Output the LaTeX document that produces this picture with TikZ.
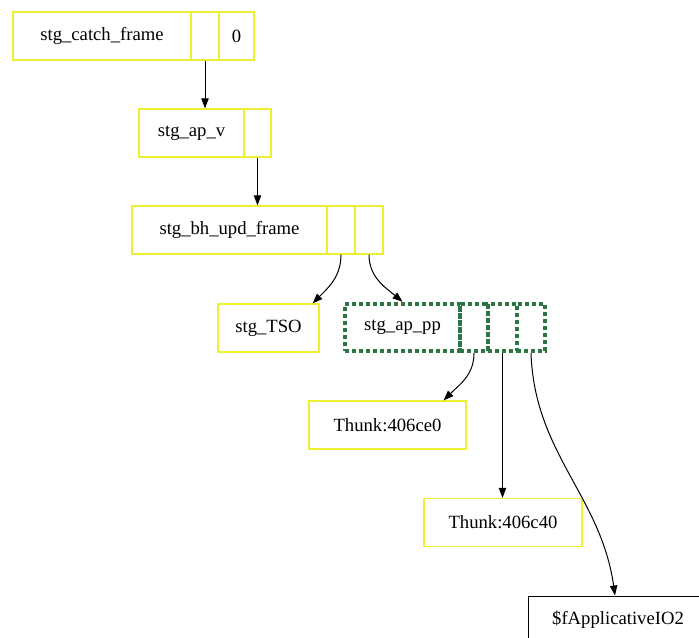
\documentclass[tikz,border=0pt]{standalone}
\usepackage{fontspec}
\setmainfont{Liberation Serif}
\usetikzlibrary{arrows.meta,calc}

\definecolor{recyellow}{RGB}{238,238,50}
\definecolor{activegreen}{RGB}{45,118,68}

\tikzset{
  cell/.style={draw=recyellow, line width=0.9pt, minimum height=36pt, inner sep=0pt, font=\fontsize{14}{17}\selectfont},
  active/.style={draw=activegreen, line width=3.3pt, dash pattern=on 3pt off 2.25pt, minimum height=35.25pt, inner sep=0pt, font=\fontsize{14}{17}\selectfont},
  plain/.style={draw=black, line width=0.75pt, minimum height=36pt, inner sep=0pt, font=\fontsize{14}{17}\selectfont},
  edge/.style={draw=black, line width=0.75pt, -{Triangle[length=7.5pt,width=5.5pt]}}
}

\begin{document}
\begin{tikzpicture}[x=0.75pt,y=-0.75pt]
\useasboundingbox (0,0) rectangle (699,638);
\clip (0,0) rectangle (699,638);

% Catch frame
\node[cell, minimum width=133.5pt] (catch) at (102,36) {stg\_catch\_frame};
\node[cell, minimum width=21pt] (catch1) at (205,36) {};
\node[cell, minimum width=26.25pt] (catch2) at (236.5,36) {0};

% Apply frame
\node[cell, minimum width=78.75pt] (apv) at (191.5,133) {stg\_ap\_v};
\node[cell, minimum width=20.25pt] (apv1) at (257.5,133) {};

% Blackhole update frame
\node[cell, minimum width=146.25pt] (bhupd) at (229.5,230) {stg\_bh\_upd\_frame};
\node[cell, minimum width=21pt] (bhupd1) at (341,230) {};
\node[cell, minimum width=21pt] (bhupd2) at (369,230) {};

% TSO
\node[cell, minimum width=75.75pt] (tso) at (268.5,328) {stg\_TSO};

% Current frame (dashed green)
\node[active, minimum width=86.25pt] (appp) at (402.5,327.5) {stg\_ap\_pp};
\node[active, minimum width=21pt] (appp1) at (474,327.5) {};
\node[active, minimum width=21.75pt] (appp2) at (502.5,327.5) {};
\node[active, minimum width=21pt] (appp3) at (531,327.5) {};

% Thunks
\node[cell, minimum width=117.75pt] (thunkA) at (387.5,425) {Thunk:406ce0};
\node[cell, minimum width=118.5pt] (thunkB) at (503,522.5) {Thunk:406c40};

% Static closure
\node[plain, minimum width=135pt] (fapp) at (618,620) {\$fApplicativeIO2};

% Pointers
\draw[edge] (catch1.south) -- (catch1.south |- apv.north);
\draw[edge] (apv1.south) -- (apv1.south |- bhupd.north);
\draw[edge] (bhupd1.south) to[out=-90,in=45] ($(tso.north east)+(-7,0)$);
\draw[edge] (bhupd2.south) to[out=-90,in=140] (appp.north);
\draw[edge] (appp1.south) to[out=-90,in=45] ($(thunkA.north east)+(-23,0)$);
\draw[edge] (appp2.south) -- (appp2.south |- thunkB.north);
\draw[edge] (appp3.south) to[out=-88,in=98] ($(fapp.north)+(-3,0)$);
\end{tikzpicture}
\end{document}
